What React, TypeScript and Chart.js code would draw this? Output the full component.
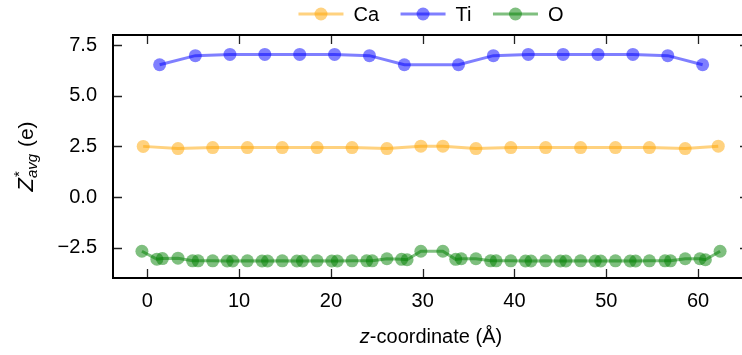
import React, { useEffect, useRef } from "react";
import { Chart, registerables } from "chart.js";

Chart.register(...registerables);

// ---- data ----
const caZ = [-0.45, 3.34, 7.12, 10.9, 14.7, 18.5, 22.3, 26.1, 29.8, 32.2, 35.8, 39.6, 43.4, 47.2, 51.0, 54.7, 58.6, 62.2];
const caZstar = [2.5, 2.39, 2.44, 2.44, 2.44, 2.44, 2.44, 2.39, 2.51, 2.51, 2.39, 2.44, 2.44, 2.44, 2.44, 2.44, 2.39, 2.51];

const tiZ = [1.34, 5.23, 9.0, 12.8, 16.6, 20.4, 24.2, 28.0, 33.9, 37.7, 41.5, 45.3, 49.1, 52.9, 56.7, 60.5];
const tiZstar = [6.53, 6.98, 7.04, 7.04, 7.04, 7.04, 6.98, 6.53, 6.53, 6.98, 7.04, 7.04, 7.04, 7.04, 6.98, 6.53];

const oZ = [-0.59, 1.04, 1.64, 3.34, 4.93, 5.53, 7.12, 8.7, 9.3, 10.9, 12.5, 13.1, 14.7, 16.3, 16.9, 18.5, 20.1, 20.7, 22.3, 23.9, 24.5, 26.1, 27.7, 28.3, 29.8, 32.2, 33.6, 34.2, 35.8, 37.4, 38.0, 39.6, 41.2, 41.8, 43.4, 45.0, 45.6, 47.2, 48.8, 49.4, 51.0, 52.6, 53.2, 54.7, 56.4, 57.0, 58.6, 60.2, 60.8, 62.4];
const oZstar = [-2.68, -3.07, -3.04, -3.02, -3.15, -3.15, -3.15, -3.16, -3.16, -3.15, -3.16, -3.16, -3.15, -3.16, -3.16, -3.15, -3.16, -3.16, -3.15, -3.15, -3.15, -3.05, -3.08, -3.1, -2.68, -2.68, -3.08, -3.05, -3.05, -3.15, -3.15, -3.15, -3.16, -3.16, -3.15, -3.16, -3.16, -3.15, -3.16, -3.16, -3.15, -3.16, -3.16, -3.15, -3.15, -3.15, -3.05, -3.05, -3.1, -2.68];

const seriesLabels = ["Ca", "Ti", "O"];
const xTicks = [0, 10, 20, 30, 40, 50, 60];
const yTicks = [-2.5, 0, 2.5, 5, 7.5];

const FONT = '"Liberation Sans", Arial, Helvetica, sans-serif';
const COLORS = ["rgba(255,165,0,0.5)", "rgba(0,0,255,0.5)", "rgba(0,128,0,0.5)"];

const zip = (xs: number[], ys: number[]) => xs.map((x, i) => ({ x, y: ys[i] }));

const decor = {
  id: "decor",
  afterDraw(chart: any) {
    const { ctx, chartArea } = chart;
    const { left, right, top, bottom } = chartArea;
    const xs = chart.scales.x;
    const ys = chart.scales.y;
    ctx.save();

    // inward ticks on all four sides
    ctx.strokeStyle = "#222";
    ctx.lineWidth = 1.3;
    const tl = 9;
    ctx.beginPath();
    xTicks.forEach((v) => {
      const px = Math.round(xs.getPixelForValue(v)) + 0.5;
      ctx.moveTo(px, bottom);
      ctx.lineTo(px, bottom - tl);
      ctx.moveTo(px, top);
      ctx.lineTo(px, top + tl);
    });
    yTicks.forEach((v) => {
      const py = Math.round(ys.getPixelForValue(v)) + 0.5;
      ctx.moveTo(left, py);
      ctx.lineTo(left + tl, py);
      ctx.moveTo(right, py);
      ctx.lineTo(right - tl, py);
    });
    ctx.stroke();

    // frame
    ctx.strokeStyle = "#000";
    ctx.lineWidth = 2;
    ctx.strokeRect(left, top, right - left, bottom - top);

    // legend
    ctx.font = `20px ${FONT}`;
    const items = chart.data.datasets.map((d: any) => ({ label: d.label, color: d.borderColor }));
    const lineLen = 45, gapText = 10, gapItem = 21.5;
    const widths = items.map((it: any) => ctx.measureText(it.label).width);
    const total = widths.reduce((a: number, w: number) => a + lineLen + gapText + w, 0) + gapItem * (items.length - 1);
    let lx = (left + right) / 2 - total / 2;
    const ly = 14;
    items.forEach((it: any, i: number) => {
      ctx.strokeStyle = it.color;
      ctx.lineWidth = 3;
      ctx.beginPath();
      ctx.moveTo(lx, ly);
      ctx.lineTo(lx + lineLen, ly);
      ctx.stroke();
      ctx.fillStyle = it.color;
      ctx.beginPath();
      ctx.arc(lx + lineLen / 2, ly, 6.5, 0, Math.PI * 2);
      ctx.fill();
      ctx.fillStyle = "#000";
      ctx.textBaseline = "alphabetic";
      ctx.textAlign = "left";
      ctx.fillText(it.label, lx + lineLen + gapText, ly + 7);
      lx += lineLen + gapText + widths[i] + gapItem;
    });

    // x title: italic z + "-coordinate (Å)"
    ctx.fillStyle = "#000";
    ctx.textBaseline = "alphabetic";
    ctx.textAlign = "left";
    const fIt = `italic 20px ${FONT}`;
    const fRg = `20px ${FONT}`;
    ctx.font = fIt;
    const wz = ctx.measureText("z").width;
    ctx.font = fRg;
    const wrest = ctx.measureText("-coordinate (Å)").width;
    let tx = (left + right) / 2 - (wz + wrest) / 2;
    const tb = 343;
    ctx.font = fIt;
    ctx.fillText("z", tx, tb);
    ctx.font = fRg;
    ctx.fillText("-coordinate (Å)", tx + wz, tb);

    // y title: Z*_avg (e), rotated
    ctx.save();
    ctx.translate(33, (top + bottom) / 2);
    ctx.rotate(-Math.PI / 2);
    const fBigIt = `italic 22px ${FONT}`;
    const fBig = `21px ${FONT}`;
    const fSmIt = `italic 15px ${FONT}`;
    const fSm = `15px ${FONT}`;
    ctx.font = fBigIt;
    const wZ = ctx.measureText("Z").width;
    ctx.font = fSm;
    const wStar = ctx.measureText("*").width;
    ctx.font = fSmIt;
    const wAvg = ctx.measureText("avg").width;
    ctx.font = fBig;
    const wE = ctx.measureText(" (e)").width;
    const tot = wZ + Math.max(wStar, wAvg) + 1 + wE;
    let x0 = -tot / 2;
    ctx.font = fBigIt;
    ctx.fillText("Z", x0, 0);
    x0 += wZ + 1;
    ctx.font = fSm;
    ctx.fillText("*", x0, -9);
    ctx.font = fSmIt;
    ctx.fillText("avg", x0 - 1, 4);
    x0 += Math.max(wStar, wAvg);
    ctx.font = fBig;
    ctx.fillText(" (e)", x0, 0);
    ctx.restore();

    ctx.restore();
  },
};

export default function App() {
  const ref = useRef<HTMLCanvasElement | null>(null);

  useEffect(() => {
    const canvas = ref.current;
    if (!canvas) return;
    const vals = [
      [caZ, caZstar],
      [tiZ, tiZstar],
      [oZ, oZstar],
    ];
    const chart = new Chart(canvas, {
      type: "scatter",
      data: {
        datasets: seriesLabels.map((label, i) => ({
          label,
          data: zip(vals[i][0], vals[i][1]),
          showLine: true,
          borderColor: COLORS[i],
          backgroundColor: COLORS[i],
          pointBackgroundColor: COLORS[i],
          borderWidth: 3,
          pointRadius: 6.5,
          pointHoverRadius: 6.5,
          pointBorderWidth: 0,
        })),
      },
      options: {
        animation: false,
        responsive: false,
        devicePixelRatio: 1,
        layout: { padding: { top: 35, right: 11, left: 0, bottom: 0 } },
        plugins: { legend: { display: false }, tooltip: { enabled: false } },
        events: [],
        scales: {
          x: {
            type: "linear",
            min: -3.74,
            max: 65.55,
            grid: { display: false, drawTicks: false },
            border: { display: false },
            ticks: {
              color: "#000",
              font: { family: FONT, size: 20 },
              padding: 11,
              maxRotation: 0,
              callback: (v: any) => String(v),
            },
            afterBuildTicks: (s: any) => {
              s.ticks = xTicks.map((v) => ({ value: v }));
            },
            afterFit: (s: any) => {
              s.height = 77;
            },
          },
          y: {
            type: "linear",
            min: -4,
            max: 8,
            grid: { display: false, drawTicks: false },
            border: { display: false },
            ticks: {
              color: "#000",
              font: { family: FONT, size: 20 },
              padding: 16,
              callback: (v: any) => Number(v).toFixed(1).replace("-", "\u2212"),
            },
            afterBuildTicks: (s: any) => {
              s.ticks = yTicks.map((v) => ({ value: v }));
            },
            afterFit: (s: any) => {
              s.width = 113;
            },
          },
        },
      },
      plugins: [decor],
    });
    return () => chart.destroy();
  }, []);

  return (
    <div style={{ position: "absolute", left: 0, top: 0, width: 742, height: 355, overflow: "hidden", background: "#fff" }}>
      <canvas ref={ref} width={760} height={355} style={{ width: 760, height: 355, display: "block" }} />
    </div>
  );
}
